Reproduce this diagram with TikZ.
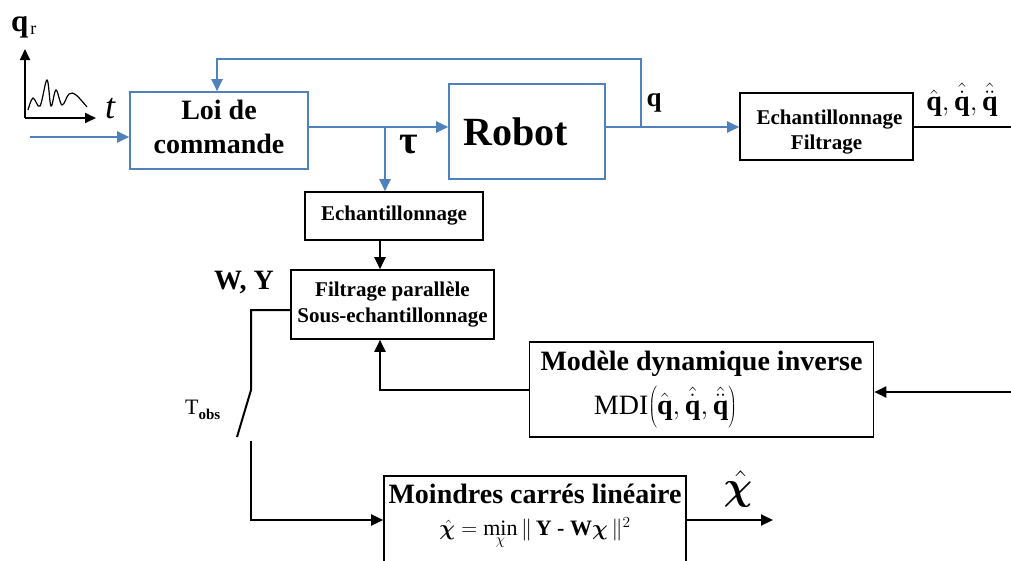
\RequirePackage{fix-cm}
\documentclass[tikz,border=0pt]{standalone}
\usepackage{bm}
\usepackage{fontspec}
\setmainfont{Liberation Serif}
\usetikzlibrary{arrows.meta,calc}
\definecolor{myblue}{RGB}{79,129,189}
\newcommand{\fs}[1]{\fontsize{#1}{#1}\selectfont}
\newcommand{\bq}{\mbox{\bfseries q}}
\begin{document}
\begin{tikzpicture}[x=1pt,y=-1pt,
  bluebox/.style={draw=myblue,line width=1.6pt,inner sep=0pt,align=center},
  blackbox/.style={draw=black,line width=1.6pt,inner sep=0pt,fill=white,align=center},
  txt/.style={inner sep=0pt,align=center},
  bline/.style={draw=myblue,line width=2pt},
  kline/.style={draw=black,line width=2pt},
  barrow/.style={bline,-{Triangle[length=12pt,width=11pt]}},
  karrow/.style={kline,-{Triangle[length=12pt,width=11pt]}}]
\useasboundingbox (0,0) rectangle (1011,560);
\fill[white] (0,0) rectangle (1011,560);

% boxes
\node[bluebox,minimum width=178pt,minimum height=77pt,font=\fontsize{28}{34}\selectfont\bfseries] (loi) at (219,130.5) {Loi de\\commande\\[-26pt]\mbox{}};
\node[bluebox,minimum width=156pt,minimum height=95pt,font=\fs{40}\bfseries] (robot) at (527,131.5) {Robot\hspace*{22pt}};
\node[blackbox,minimum width=173pt,minimum height=67pt,font=\fontsize{21}{25}\selectfont\bfseries] (ef) at (826.5,126.5) {\rule{0pt}{26pt}Echantillonnage\hspace*{-6pt}\\Filtrage};
\node[blackbox,minimum width=178pt,minimum height=48pt,font=\fs{21}\bfseries] (ech) at (394,216) {Echantillonnage};
\node[blackbox,minimum width=203pt,minimum height=69pt,font=\fontsize{21}{26}\selectfont\bfseries] (filt) at (392.5,304.5) {Filtrage parallèle\\Sous-echantillonnage};
\node[blackbox,minimum width=344pt,minimum height=95pt,font=\fontsize{28}{44}\selectfont] (mdi) at (701.5,389.5) {\bfseries Modèle dynamique inverse\\\hspace*{-72pt}MDI$\left(\hat{\bq},\hat{\dot{\bq}},\hat{\ddot{\bq}}\right)$};
\node[blackbox,minimum width=302pt,minimum height=90pt,font=\fontsize{28}{32}\selectfont] (mc) at (535,521) {\bfseries Moindres carrés linéaire\\{\fs{22}$\hat{\bm{\chi}}=\mathop{\mbox{min}}\limits_{\chi}\|\,\mbox{\bfseries Y - W}\bm{\chi}\,\|^2$}\\[-10pt]\rule{0pt}{4pt}};

% reference signal sketch
\coordinate (orig) at (25,118);
\coordinate (yax) at (25,49);
\coordinate (xax) at (96,118);
\draw[kline,line width=1.8pt,-{Triangle[length=11pt,width=10pt]}] (orig) -- (yax);
\draw[kline,line width=1.8pt,-{Triangle[length=11pt,width=10pt]}] (orig) -- (xax);
\draw[line width=1.2pt] plot[smooth,tension=0.6] coordinates {(28,110)(33,98)(40,106)(47,80)(51,106)(56,90)(62,105)(69,94)(76,95)(87,107)};
\node[txt,font=\fs{36}\itshape] (tlab) at (110,109) {t};
\node[txt,anchor=base west] (qr) at (11,31) {\fs{31}\bfseries q\hspace{2pt}\raisebox{-3pt}{\fs{18}\mdseries r}};

% blue signal path
\coordinate (in) at (30,137);
\coordinate (tap) at (385,127);
\coordinate (qtap) at (641,127);
\coordinate (top1) at (641,59);
\coordinate (top2) at (217,59);
\draw[barrow] (in) -- (in -| loi.west);
\draw[barrow] (loi.east |- tap) -- (robot.west |- tap);
\draw[barrow] (tap) -- (tap |- ech.north);
\draw[barrow] (robot.east |- qtap) -- (ef.west |- qtap);
\draw[barrow] (qtap) -- (top1) -- (top2) -- (top2 |- loi.north);
\node[txt,font=\fs{40}\bfseries] (tau) at (409,145) {τ};
\node[txt,font=\fs{27}\bfseries] (qlab) at (654,103) {q};

% black paths
\coordinate (out) at (1011,127);
\draw[kline] (ef.east |- out) -- (out);
\node[txt,font=\fs{28}] (qhat) at (962,100) {$\hat{\bq},\hat{\dot{\bq}},\hat{\ddot{\bq}}$};
\draw[karrow] (ech.south -| 380,0) -- (filt.north -| 380,0);
\coordinate (mdiin) at (1011,392);
\draw[karrow] (mdiin) -- (mdi.east |- mdiin);
\coordinate (fb) at (380,390);
\draw[karrow] (mdi.west |- fb) -- (fb) -- (fb |- filt.south);
\coordinate (sw1) at (251,310);
\coordinate (sw2) at (251,390);
\coordinate (sw3) at (237,437);
\coordinate (sw4) at (251,441);
\coordinate (sw5) at (251,520);
\draw[kline] (filt.west |- sw1) -- (sw1) -- (sw2) -- (sw3);
\draw[karrow] (sw4) -- (sw5) -- (sw5 -| mc.west);
\coordinate (chiout) at (773,520);
\draw[karrow] (mc.east |- chiout) -- (chiout);
\node[txt,font=\fs{40}] (chihat) at (738,489) {$\hat{\bm{\chi}}$};
\node[txt,font=\fs{28}\bfseries] (wy) at (244,282) {W, Y};
\node[txt,anchor=base west] (tobs) at (185,414) {\fs{22}T\raisebox{-5pt}{\fs{15}\bfseries obs}};
\end{tikzpicture}
\end{document}
